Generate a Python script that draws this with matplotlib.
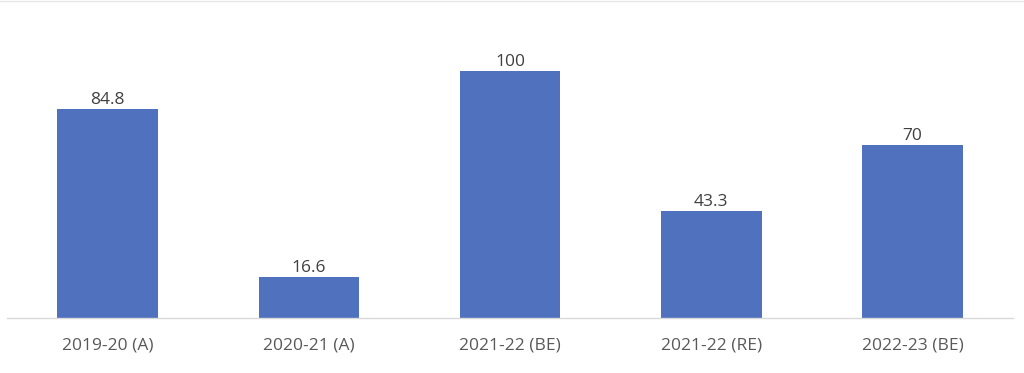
import matplotlib
matplotlib.use("Agg")
import matplotlib.pyplot as plt
from matplotlib.lines import Line2D

categories = ["2019-20 (A)", "2020-21 (A)", "2021-22 (BE)", "2021-22 (RE)", "2022-23 (BE)"]
values = [84.8, 16.6, 100, 43.3, 70]
value_labels = ["84.8", "16.6", "100", "43.3", "70"]

plt.rcParams['font.family'] = ['Open Sans', 'DejaVu Sans']

fig = plt.figure(figsize=(10.24, 3.73), dpi=100)
W, H = 1024, 373
ax = fig.add_axes([7 / W, 55 / H, (1013 - 7) / W, (318 - 21.6) / H])

x = list(range(len(categories)))
ax.bar(x, values, width=0.5, color="#4F71BE", zorder=2)
ax.set_xlim(-0.5, len(categories) - 0.5)
ax.set_ylim(0, 120)

for xi, v, lab in zip(x, values, value_labels):
    ax.annotate(lab, (xi, v), xytext=(0, 0.5), textcoords="offset points",
                ha="center", va="bottom", fontsize=12.5, color="#404040")

ax.set_xticks(x)
ax.set_xticklabels(categories, fontsize=12.5, color="#595959")
ax.tick_params(axis="x", length=0, pad=14)
ax.set_yticks([])
for s in ["top", "right", "left"]:
    ax.spines[s].set_visible(False)
ax.spines["bottom"].set_color("#D9D9D9")
ax.spines["bottom"].set_linewidth(1)

fig.add_artist(Line2D([0, 1], [1 - 0.8 / H, 1 - 0.8 / H], color="#E6E6E6", lw=1, transform=fig.transFigure))

fig.savefig("out.png", dpi=100)
